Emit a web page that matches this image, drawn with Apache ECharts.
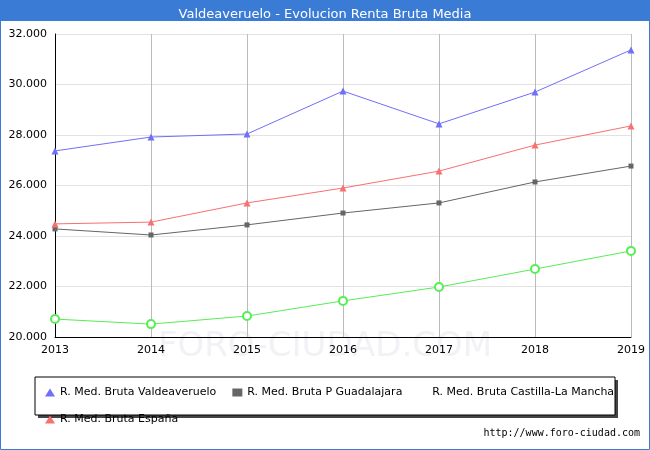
<!DOCTYPE html>
<html>
<head>
<meta charset="utf-8">
<script src="https://cdn.jsdelivr.net/npm/echarts@6/dist/echarts.min.js"></script>
<style>
  body { margin: 0; }
  #chart { width: 650px; height: 450px; }
</style>
</head>
<body>
<div id="chart"></div>
<script>
var years = ['2013', '2014', '2015', '2016', '2017', '2018', '2019'];
var valdeaveruelo = [27370, 27920, 28040, 29740, 28440, 29700, 31370];
var guadalajara = [24280, 24040, 24440, 24910, 25310, 26140, 26770];
var castillaLaMancha = [20710, 20510, 20830, 21430, 21980, 22690, 23410];
var espana = [24480, 24550, 25310, 25900, 26570, 27600, 28360];

var chart = echarts.init(document.getElementById('chart'));

function fmt(v) {
  return String(v).replace(/\B(?=(\d{3})+(?!\d))/g, '.');
}

function line(name, data, color, symbol, size) {
  return {
    name: name,
    type: 'line',
    data: data,
    symbol: symbol,
    symbolSize: size,
    itemStyle: { color: color },
    lineStyle: { color: color, width: 1 },
    emphasis: { disabled: true }
  };
}

chart.setOption({
  animation: false,
  backgroundColor: '#fff',
  title: {
    text: 'Valdeaveruelo - Evolucion Renta Bruta Media',
    left: 'center',
    top: 3,
    textStyle: { color: '#fff', fontSize: 13, fontWeight: 'normal', fontFamily: 'DejaVu Sans' }
  },
  graphic: [
    { type: 'rect', z: -1, shape: { x: 0, y: 0, width: 650, height: 21 }, style: { fill: '#3a7bd5' } },
    { type: 'rect', z: -1, shape: { x: 0.5, y: 0.5, width: 649, height: 449 }, style: { fill: 'none', stroke: '#3a7bd5' } },
    { type: 'rect', z: -1, shape: { x: 38, y: 380, width: 580, height: 38 }, style: { fill: '#444' } },
    { type: 'rect', z: -1, shape: { x: 35, y: 377, width: 580, height: 38 }, style: { fill: '#fff', stroke: '#000' } },
    { type: 'text', left: 'center', top: 330, z: -1, style: { text: 'FORO-CIUDAD.COM', fontSize: 34, fill: 'rgba(200,200,220,0.25)', fontFamily: 'DejaVu Sans' } },
    { type: 'text', right: 10, top: 428, style: { text: 'http://www.foro-ciudad.com', fontSize: 10, fill: '#000', fontFamily: 'DejaVu Sans Mono' } }
  ],
  grid: { left: 55, right: 19, top: 34, bottom: 113 },
  legend: {
    left: 40, top: 382, width: 570,
    itemWidth: 10, itemHeight: 8, itemGap: 16,
    textStyle: { fontSize: 11, fontFamily: 'DejaVu Sans', color: '#000' },
    data: [
      { name: 'R. Med. Bruta Valdeaveruelo', icon: 'triangle' },
      { name: 'R. Med. Bruta P Guadalajara', icon: 'rect' },
      { name: 'R. Med. Bruta Castilla-La Mancha', icon: 'path://M0,5L10,5M5,0L5,10' },
      { name: 'R. Med. Bruta España', icon: 'triangle' }
    ]
  },
  xAxis: {
    type: 'category',
    data: years,
    boundaryGap: false,
    axisLine: { lineStyle: { color: '#000' } },
    axisTick: { show: false },
    axisLabel: { color: '#000', fontSize: 11, fontFamily: 'DejaVu Sans' },
    splitLine: { show: true, lineStyle: { color: '#bbb' } }
  },
  yAxis: {
    type: 'value',
    min: 20000, max: 32000, interval: 2000,
    axisLine: { show: true, lineStyle: { color: '#000' } },
    axisTick: { show: false },
    axisLabel: { color: '#000', fontSize: 11, fontFamily: 'DejaVu Sans', formatter: fmt },
    splitLine: { lineStyle: { color: '#e2e2e2' } }
  },
  series: [
    line('R. Med. Bruta Valdeaveruelo', valdeaveruelo, '#6f6ff7', 'triangle', 7),
    line('R. Med. Bruta P Guadalajara', guadalajara, '#666', 'rect', 5),
    line('R. Med. Bruta Castilla-La Mancha', castillaLaMancha, '#55ee55', 'emptyCircle', 8),
    line('R. Med. Bruta España', espana, '#f87070', 'triangle', 7)
  ]
});
</script>
</body>
</html>
